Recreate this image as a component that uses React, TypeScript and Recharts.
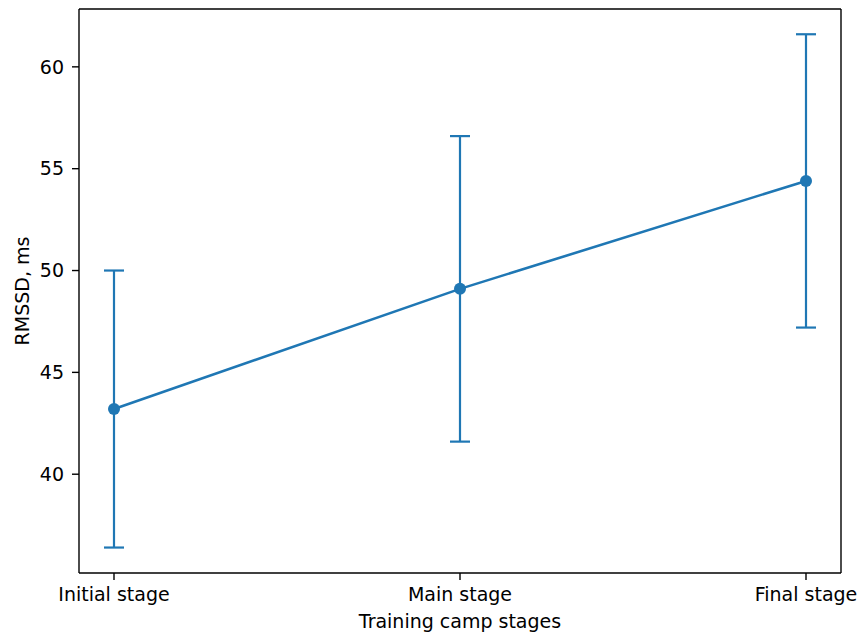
import React from 'react';
import {
  LineChart, Line, XAxis, YAxis, ErrorBar,
} from 'recharts';

// ─── Data ─────────────────────────────────────────────────────────────────────
const STAGES = ['Initial stage', 'Main stage', 'Final stage'];
const RMSSD_MEAN = [43.2, 49.1, 54.4];
const RMSSD_SD = [6.8, 7.5, 7.2];
const Y_TICKS = [40, 45, 50, 55, 60];

const data = STAGES.map((stage, i) => ({
  stage,
  rmssd: RMSSD_MEAN[i],
  sd: RMSSD_SD[i],
}));

const BLUE = '#1f77b4';
const FONT = '"DejaVu Sans", sans-serif';
const FS = 19;
const Y_DOMAIN: [number, number] = [35.15, 62.84];

// ─── Axis titles ──────────────────────────────────────────────────────────────
const YLabel: React.FC<any> = ({ viewBox }) => {
  const cy = viewBox.y + viewBox.height / 2;
  return (
    <text
      x={22} y={cy}
      transform={`rotate(-90, 22, ${cy})`}
      textAnchor="middle" dominantBaseline="central"
      fontSize={FS} fontFamily={FONT} fill="#000"
    >
      RMSSD, ms
    </text>
  );
};

const XLabel: React.FC<any> = ({ viewBox }) => (
  <text
    x={viewBox.x + viewBox.width / 2} y={628}
    textAnchor="middle"
    fontSize={FS} fontFamily={FONT} fill="#000"
  >
    Training camp stages
  </text>
);

const tickStyle = { fontSize: FS, fontFamily: FONT, fill: '#000' };
const axisStroke = { stroke: '#000', strokeWidth: 1.4 };

export default function App() {
  return (
    <div style={{ position: 'absolute', left: 0, top: 0, background: '#fff' }}>
      <LineChart
        width={860} height={637} data={data}
        margin={{ top: 8, right: 18, left: 0, bottom: 0 }}
      >
        <XAxis
          dataKey="stage"
          height={64}
          padding={{ left: 35, right: 35 }}
          tick={tickStyle}
          tickSize={7}
          tickMargin={8}
          axisLine={axisStroke}
          tickLine={axisStroke}
          interval={0}
          label={<XLabel />}
        />
        {/* top & right spines */}
        <XAxis
          xAxisId="top" orientation="top" dataKey="stage"
          height={1} tick={false} tickLine={false}
          padding={{ left: 35, right: 35 }}
          axisLine={axisStroke}
        />
        <YAxis
          width={79}
          domain={Y_DOMAIN}
          ticks={Y_TICKS}
          allowDataOverflow
          tick={tickStyle}
          tickSize={7}
          tickMargin={8}
          axisLine={axisStroke}
          tickLine={axisStroke}
          label={<YLabel />}
        />
        <YAxis
          yAxisId="right" orientation="right"
          width={1} domain={Y_DOMAIN} allowDataOverflow
          tick={false} tickLine={false}
          axisLine={axisStroke}
        />
        <Line
          dataKey="rmssd"
          stroke={BLUE}
          strokeWidth={2.6}
          dot={{ r: 6, fill: BLUE, stroke: BLUE, strokeWidth: 0 }}
          activeDot={false}
          isAnimationActive={false}
        >
          <ErrorBar
            dataKey="sd"
            direction="y"
            width={10}
            stroke={BLUE}
            strokeWidth={2.2}
            isAnimationActive={false}
          />
        </Line>
      </LineChart>
    </div>
  );
}
